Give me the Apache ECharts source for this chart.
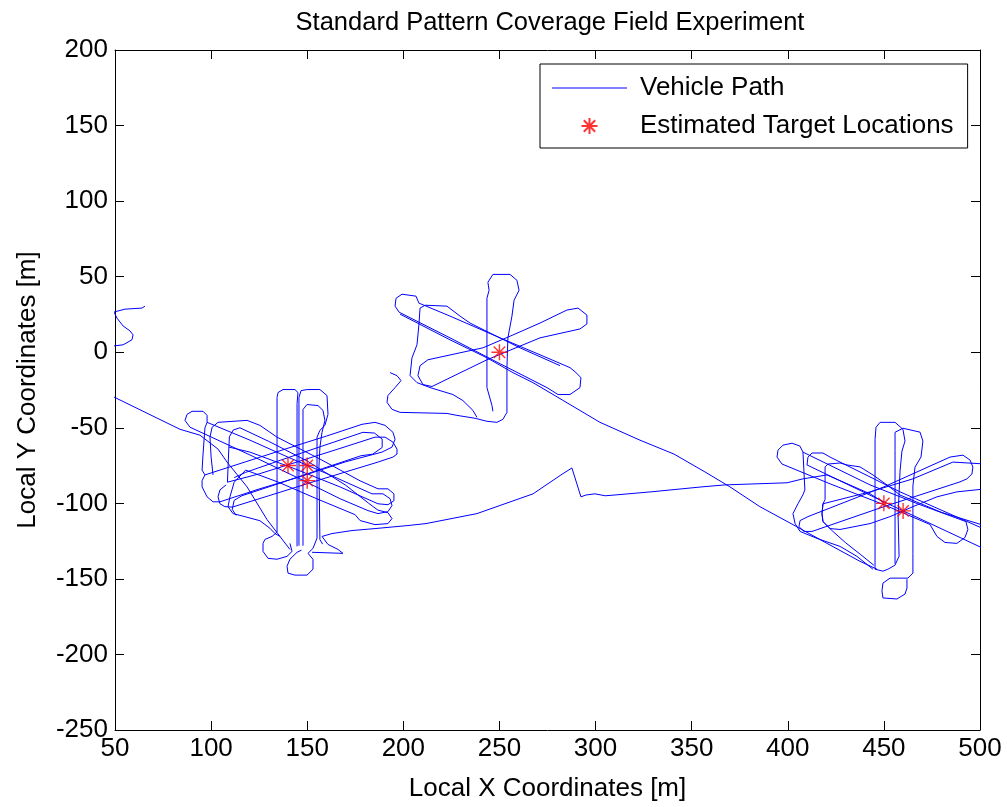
<!DOCTYPE html>
<html><head><meta charset="utf-8">
<script src="https://cdn.jsdelivr.net/npm/echarts@6/dist/echarts.min.js"></script>
<style>html,body{margin:0;padding:0;background:#fff;overflow:hidden}#c{width:1007px;height:807px}</style>
</head><body><div id="c"></div>
<script>
// ---- axis ranges / ticks ----
const xRange = [50, 500], xStep = 50;
const yRange = [-250, 200], yStep = 50;

// ---- vehicle path pieces (local X, local Y in metres) ----
const startPath = [[65.6,30.5],[64.0,29.2],[55.2,28.5],[49.5,26.6],[51.0,22.6],[54.2,17.4],[57.8,14.1],[59.4,11.5],[60.4,10.8],[58.8,8.2],[54.2,4.9],[49.5,4.2]];
const leftEntryLine = [[45,-26.9],[83.8,-51],[94.2,-54.9],[103.6,-64.1],[108.3,-72.7],[118.7,-89.1],[129.1,-110.8],[141,-130.5]];
const leftDiag1 = [[97.9,-46.4],[97.9,-41.8],[95.8,-39.1],[90.1,-39.1],[87.5,-41.1],[86.4,-45.1],[89.0,-49.6],[120.2,-68.0],[146.2,-83.8],[167.0,-96.9],[181.6,-104.8],[186.8,-106.8],[192.0,-105.5],[194.1,-101.5],[193.1,-96.9],[189.4,-93.7],[183.7,-93.7],[161.8,-81.2],[141.0,-70.0],[120.2,-58.2],[97.9,-46.4],[96.8,-50],[95.8,-67.4],[95.3,-78],[96.8,-81.2]];
const leftDiag2 = [[101.0,-81.2],[100.0,-69.4],[99.4,-56.2],[100.5,-49.7],[103.6,-46.4],[118.7,-45.1],[125.4,-48.4],[134.3,-56.2],[156.6,-70.7],[177.5,-85.1],[186.8,-90.4],[192.0,-90.4],[195.1,-93.7],[195.1,-98.3],[192.0,-100.9],[186.8,-100.3],[167.0,-89.1],[141.0,-75.9],[120.2,-66.1],[109.3,-62.8]];
const leftDiag3 = [[115,-50],[130,-59],[150,-72],[170,-88],[182,-100],[186.8,-104.5],[192.0,-106.2],[194.1,-110.1],[192.0,-113.4],[185.3,-114.1],[177.5,-111.4],[174.9,-107.5],[155,-97],[135,-86],[118,-78],[112,-86],[109.8,-95.7],[108.8,-102.2],[111.4,-106.8],[116.6,-108.5],[125.4,-111.5],[130.6,-116.5],[133.2,-120],[135.9,-121.9]];
const leftCross1 = [[96.8,-81.2],[95.3,-85.0],[95.3,-89.1],[97.9,-95.7],[101.0,-99.0],[104.6,-99.0],[125,-90.5],[146,-82.5],[170,-72.5],[188.9,-66.1],[194.1,-62.8],[195.7,-57.6],[194.6,-53.0],[190.5,-48.4],[185.3,-46.4],[178.5,-47.7],[160,-55.5],[140,-63.5],[118,-72.5],[96.8,-81.2]];
const leftCross2 = [[107.8,-87.8],[104.6,-91.1],[103.6,-95.7],[104.6,-100.3],[107.2,-102.2],[111,-102.5],[130,-95],[150,-87],[170,-79.2],[186.8,-72.7],[194.6,-69.4],[196.7,-67.4],[196.7,-64.1],[194.6,-59.5],[190.5,-56.2],[185.3,-56.2],[165,-64.5],[145,-72.5],[125,-80.5],[108.5,-86],[109,-70],[109.5,-56],[111.5,-51.5],[115,-50]];
const leftCross3 = [[113,-108],[111,-104],[112,-98],[116,-95],[135,-87],[158,-77],[178,-68.5],[184,-67.5],[189,-63],[189,-57.5],[185,-53.5],[179,-53],[158,-62],[136,-71.5],[118,-79.5],[112,-83]];
const leftVert1 = [[141.0,-126.5],[142.1,-131.8],[139.5,-135.1],[134.3,-137.0],[129.6,-136.4],[127.0,-131.8],[127.0,-126.5],[128.0,-123.9],[131.7,-121.9],[134.3,-119],[134.3,-30],[134.8,-26.7],[137.4,-24.7],[143.6,-24.7],[145.2,-26.7],[144.7,-34],[144.7,-128.5]];
const leftVert2 = [[145.7,-128],[145.7,-30],[146.8,-25.4],[150,-24.7],[156.6,-24.7],[160.3,-28.7],[160.8,-41.1],[159.2,-48.4],[156.6,-51.7],[155.1,-56.2],[155.1,-123],[153.0,-129.8],[150.4,-133.1],[153,-137],[153,-143.6],[149.9,-147.5],[143.6,-147.5],[140,-146.2],[139.5,-141.6],[141,-137],[144.7,-132.4],[147,-131]];
const leftVert3 = [[147.8,-128],[147.8,-37.9],[149.9,-34.6],[155.6,-35.3],[158.2,-38.5],[159.2,-45.1],[157.7,-53],[156.6,-62.8],[156.1,-75.9],[156.6,-124],[158,-127]];
const trailToRight = [[152.5,-132.4],[168.6,-133.1],[166,-130.5],[160.8,-127.2],[157.7,-121.9],[162.9,-120],[173.3,-118],[185.3,-116.7],[202.4,-114.7],[211.8,-113.4],[238.3,-106.8],[267.5,-93.7],[282,-81.2],[287.7,-76.6],[292.4,-95.7],[295,-94.5],[299.7,-93.7],[305,-95],[311.7,-94.3],[328.8,-92.4],[355.4,-89.1],[367.3,-87.8],[399.6,-86.4],[407.9,-83.8],[420.4,-81.2],[442.8,-93.7],[450,-99.5]];
const midApproach = [[193.1,-13.5],[196.7,-15.5],[198.8,-18.8],[195.7,-23.4],[192.0,-28.6],[191.5,-33.2],[194.1,-37.8],[198.3,-39.8],[222.7,-40.5],[227.9,-41.8],[237.3,-43.7],[243.5,-45.7],[248.7,-46.4],[251.8,-44.4],[253.9,-39.8],[253.9,-10.2],[254.4,9.5],[256.5,23.9],[257.6,34.4],[260.2,41.0],[259.1,47.6],[255.5,51.5],[246.6,51.5],[244.0,46.3],[244.6,41.0],[243.5,35.7],[243.5,-23.4],[246.1,-35.2],[246.6,-39.1]];
const midDiagA = [[286.7,-10.2],[271.1,-1.7],[250.3,9.5],[224.3,23.9],[208.1,32.5],[206.6,37.1],[199.3,38.4],[196.2,35.7],[195.7,30.5],[197.8,26.5],[224.3,9.5],[250.3,-7.6],[274.7,-23.4],[280.5,-28.0],[286.7,-28.0],[291.9,-23.4],[292.4,-16.8],[289.3,-12.9],[286.7,-10.2]];
const midCross = [[214.9,-22.7],[210.2,-21.4],[207.6,-15.5],[208.7,-8.9],[212.8,-5.0],[241.4,2.9],[257.0,11.4],[271.1,19.3],[285.1,27.9],[290.9,29.2],[295.5,24.6],[295.5,18.7],[291.9,15.4],[271.1,9.5],[243.5,-5.0],[214.9,-22.7]];
const midLoopB = [[281.5,-8.9],[260.7,2.9],[245.1,12.7],[234.7,19.3],[229.5,23.9],[222.7,30.5],[211.3,31.1],[208.7,29.2],[208.1,18.0],[207.1,4.9],[204.5,-3.7],[203.5,-15.5],[207.1,-20.1],[213.9,-23.4],[225.8,-28.0],[231.0,-32.0],[236.2,-38.5],[238.3,-43.1]];
const longDiagonal = [[198.3,25.2],[224.3,8.2],[243.5,-3.7],[257.0,-13.5],[267.4,-20.1],[283.1,-31.9],[302.3,-46.4],[323.1,-58.2],[340.8,-67.4],[356.9,-79.2],[369.9,-89.1],[385.5,-102.2],[402.7,-114.1],[420.4,-126.5],[437.6,-138.4],[446.4,-143.6]];
const rightDiagA = [[407.9,-66.1],[406.3,-62.1],[402.2,-60.2],[397.5,-61.5],[394.9,-64.8],[394.4,-69.4],[397.0,-74.0],[422.0,-87.1],[450.0,-100.9],[474.0,-114.0],[477.6,-121.9],[481.8,-125.9],[488.0,-126.5],[492.2,-122.6],[493.7,-117.3],[492.7,-112.1],[468.8,-100.9],[442.8,-87.8],[407.9,-66.1],[408.9,-91.1],[407.9,-94.3],[405.3,-100.3],[402.7,-106.8],[403.8,-113.4],[406.4,-118.6],[415.2,-123.2],[427.2,-128.5],[436.0,-135.1],[444.3,-143.6]];
const rightDiagB = [[503,-117.5],[458.4,-92.4],[422.0,-69.4],[418.3,-66.7],[412.6,-66.7],[410.5,-69.4],[410.0,-74.6],[450.0,-99.0],[503,-130.6]];
const rightCapC = [[444.8,-141],[438,-134],[430,-126],[423.5,-118.6],[418.3,-112.1],[417.8,-106.8],[418.3,-100.3],[419.4,-97.6],[419.4,-75.9],[420.9,-74.0],[427.2,-73.3],[430.8,-74.6],[437.6,-75.9],[444.3,-81.2],[451.6,-87.8],[458.4,-94.5],[480,-106],[503,-115]];
const rightCrossD = [[410.5,-108.8],[450,-89.1],[484.4,-69.4],[491.1,-68.1],[494.8,-71.3],[496.3,-76.0],[495.8,-80.6],[493.2,-83.8],[489.6,-85.8],[450,-102.2],[412.6,-118.6],[408.4,-118.6],[405.8,-115.4],[406.4,-111.4],[410.5,-108.8]];
const rightCrossE = [[503,-74.0],[485.9,-72.7],[465.1,-83.8],[442.8,-92.4],[418.3,-100.3],[417.8,-106.8],[418.3,-112.1],[422.0,-116.7],[427.2,-117.3],[442.8,-113.4],[453.2,-108.8],[465.1,-102.2],[477.6,-95.7],[488.0,-92.4],[503,-90.4]];
const rightVert1 = [[445.4,-143.6],[445.4,-57.6],[445.9,-49.7],[448.0,-46.4],[455.8,-46.4],[459.9,-51.0],[461.0,-58.8],[459.4,-65.4],[458.4,-78.6],[457.4,-108.1],[457.9,-135.0],[455.8,-140.9],[452.1,-143.6],[449.5,-144.9],[445.4,-143.6]];
const rightVert2 = [[455.8,-140],[455.8,-65],[455.8,-53],[459.9,-50.3],[468.8,-52.9],[470.3,-58.8],[469.3,-69.4],[466.2,-76.0],[465.1,-88.5],[465.1,-133.1],[465.1,-146.2],[462.5,-149.5],[459.9,-149.5],[453.2,-149.5],[449.5,-152.8],[449.0,-158.1],[449.5,-162.6],[456.8,-163.3],[461.0,-160.0],[462.0,-156.1],[462.0,-150.2]];

// ---- estimated target locations ----
const targets = [[140,-75],[150,-75],[150,-85],[250,0],[450,-100],[460,-105]];

const pathPieces = [startPath, leftEntryLine, leftDiag1, leftDiag2, leftDiag3, leftCross1, leftCross2, leftCross3,
  leftVert1, leftVert2, leftVert3, trailToRight, midApproach, midDiagA, midCross, midLoopB, longDiagonal,
  rightDiagA, rightDiagB, rightCapC, rightCrossD, rightCrossE, rightVert1, rightVert2];

const FONT = 'Liberation Sans, Arial, Helvetica, sans-serif';
const FS = 26;
const BLUE = '#0000ff';

const pathSeries = pathPieces.map(d => ({
  name: 'Vehicle Path', type: 'line', data: d, symbol: 'none', showSymbol: false,
  lineStyle: { color: BLUE, width: 1 }, itemStyle: { color: BLUE },
  animation: false, silent: true, clip: true, z: 2
}));

const star = 'path://M8,0L8,16M0,8L16,8M2.3,2.3L13.7,13.7M13.7,2.3L2.3,13.7';

const axisCommon = (extra) => Object.assign({
  type: 'value',
  axisLine: { show: true, onZero: false, lineStyle: { color: '#000', width: 1 } },
  axisTick: { show: true, inside: true, length: 9, lineStyle: { color: '#000' } },
  splitLine: { show: false }
}, extra);

const chart = echarts.init(document.getElementById('c'), null, { renderer: 'canvas', width: 1007, height: 807 });
chart.setOption({
  backgroundColor: '#fff',
  animation: false,
  title: {
    text: 'Standard Pattern Coverage Field Experiment',
    left: 545, top: 5, textAlign: 'center',
    textStyle: { fontSize: 25.5, fontWeight: 'normal', color: '#000', fontFamily: FONT }
  },
  grid: { left: 115, top: 50, width: 865, height: 685, containLabel: false },
  legend: {
    left: 540, top: 64, orient: 'vertical', selectedMode: false,
    data: [
      { name: 'Vehicle Path', icon: 'path://M0,0L75,0L75,1L0,1Z', itemStyle: { color: BLUE, borderWidth: 0 } },
      { name: 'Estimated Target Locations' }
    ],
    itemWidth: 75, itemHeight: 16, itemGap: 12,
    padding: [11, 14, 9, 12],
    borderColor: '#000', borderWidth: 1, backgroundColor: '#fff',
    textStyle: { fontSize: FS, color: '#000', fontFamily: FONT, lineHeight: 26, padding: [0, 0, 0, 8] }
  },
  xAxis: [
    axisCommon({ min: xRange[0], max: xRange[1], interval: xStep, position: 'bottom',
      axisLabel: { fontSize: FS, color: '#000', fontFamily: FONT, margin: 6 },
      name: 'Local X Coordinates [m]', nameLocation: 'middle', nameGap: 46,
      nameTextStyle: { fontSize: FS, color: '#000', fontFamily: FONT } }),
    axisCommon({ min: xRange[0], max: xRange[1], interval: xStep, position: 'top',
      axisLabel: { show: false } })
  ],
  yAxis: [
    axisCommon({ min: yRange[0], max: yRange[1], interval: yStep, position: 'left',
      axisLabel: { fontSize: FS, color: '#000', fontFamily: FONT, margin: 7 },
      name: 'Local Y Coordinates [m]', nameLocation: 'middle', nameGap: 74, nameRotate: 90,
      nameTextStyle: { fontSize: FS, color: '#000', fontFamily: FONT } }),
    axisCommon({ min: yRange[0], max: yRange[1], interval: yStep, position: 'right',
      axisLabel: { show: false } })
  ],
  series: pathSeries.concat([{
    name: 'Estimated Target Locations', type: 'scatter', data: targets,
    symbol: star, symbolSize: 16,
    itemStyle: { color: 'rgba(255,0,0,0)', borderColor: '#ff0000', borderWidth: 1.4 },
    animation: false, silent: true, z: 5
  }])
});
</script></body></html>
